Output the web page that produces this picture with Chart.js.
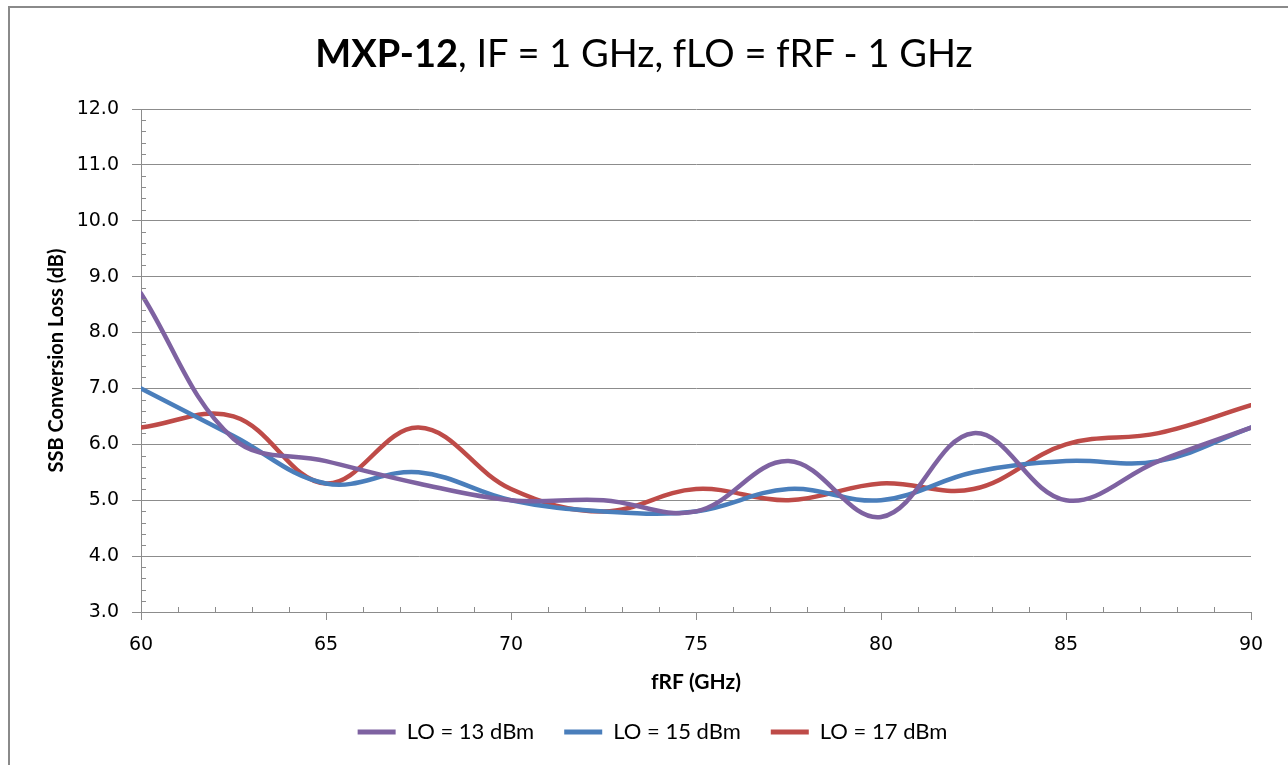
<!DOCTYPE html>
<html>
<head>
<meta charset="utf-8">
<script src="https://cdn.jsdelivr.net/npm/chart.js@4.4.1/dist/chart.umd.min.js"></script>
<style>
  html, body { margin: 0; padding: 0; background: #ffffff; }
  #wrap { position: relative; width: 1288px; height: 765px; overflow: hidden; background: #ffffff; }
  #frame { position: absolute; left: 8px; top: 6px; width: 1400px; height: 900px;
           border-left: 2px solid #8a8a8a; border-top: 2px solid #8a8a8a; }
  #c { position: absolute; left: 0; top: 0; }
  #title { position: absolute; left: 0; top: 32px; width: 1288px; text-align: center;
           font-family: Lato, "Open Sans", sans-serif; font-size: 38px; line-height: 40px; color: #000; }
  #title b { font-weight: 700; }
</style>
</head>
<body>
<div id="wrap">
  <div id="frame"></div>
  <canvas id="c" width="1288" height="765"></canvas>
  <div id="title"><b>MXP-12</b>, IF = 1 GHz, fLO = fRF - 1 GHz</div>
</div>
<script>
// ---- data ----
const frequencies = [60, 62.5, 65, 67.5, 70, 72.5, 75, 77.5, 80, 82.5, 85, 87.5, 90];
const lo13 = [8.7, 6.1, 5.7, 5.3, 5.0, 5.0, 4.8, 5.7, 4.7, 6.2, 5.0, 5.7, 6.3];
const lo15 = [7.0, 6.15, 5.3, 5.5, 5.0, 4.8, 4.8, 5.2, 5.0, 5.5, 5.7, 5.7, 6.3];
const lo17 = [6.3, 6.5, 5.3, 6.3, 5.2, 4.8, 5.2, 5.0, 5.3, 5.2, 6.0, 6.2, 6.7];
const seriesNames = ['LO = 13 dBm', 'LO = 15 dBm', 'LO = 17 dBm'];
const xTickValues = [60, 65, 70, 75, 80, 85, 90];
const yTickValues = [3, 4, 5, 6, 7, 8, 9, 10, 11, 12];
const xAxisTitle = 'fRF (GHz)';
const yAxisTitle = 'SSB Conversion Loss (dB)';

const seriesValues = [lo13, lo15, lo17];
const seriesColors = ['#7e62a1', '#4a7ebb', '#be4b48'];
const GRID = '#8c8c8c';

const toPoints = vals => frequencies.map((f, i) => ({ x: f, y: vals[i] }));

const minorTicks = {
  id: 'minorTicks',
  afterDraw(chart) {
    const ctx = chart.ctx;
    const xs = chart.scales.x, ys = chart.scales.y;
    const left = chart.chartArea.left, bottom = chart.chartArea.bottom;
    ctx.save();
    ctx.strokeStyle = GRID;
    ctx.lineWidth = 1;
    ctx.beginPath();
    for (let i = 1; i < Math.round((ys.max - ys.min) / 0.2); i++) {
      if (i % 5 === 0) continue;
      const py = Math.round(ys.getPixelForValue(ys.min + i * 0.2)) + 0.5;
      ctx.moveTo(left, py); ctx.lineTo(left + 5, py);
    }
    for (let v = xs.min + 1; v < xs.max; v += 1) {
      if ((v - xs.min) % 5 === 0) continue;
      const px = Math.round(xs.getPixelForValue(v)) + 0.5;
      ctx.moveTo(px, bottom); ctx.lineTo(px, bottom - 5);
    }
    ctx.stroke();
    ctx.restore();
  }
};

new Chart(document.getElementById('c'), {
  type: 'line',
  data: {
    datasets: seriesValues.map((vals, i) => ({
      label: seriesNames[i],
      data: toPoints(vals),
      borderColor: seriesColors[i],
      backgroundColor: seriesColors[i],
      borderWidth: 4.5,
      pointRadius: 0,
      pointHoverRadius: 0,
      tension: 0.38,
      fill: false,
      borderCapStyle: 'round'
    }))
  },
  options: {
    responsive: false,
    animation: false,
    devicePixelRatio: 1,
    layout: { padding: { top: 109, right: 37, left: 54, bottom: 12 } },
    plugins: {
      title: { display: false },
      tooltip: { enabled: false },
      legend: {
        position: 'bottom',
        labels: {
          font: { family: 'Lato', size: 22 },
          color: '#000',
          boxWidth: 38,
          boxHeight: 5,
          padding: 30,
          generateLabels(chart) {
            return Chart.defaults.plugins.legend.labels.generateLabels(chart).map(l => Object.assign(l, { lineWidth: 0 }));
          }
        }
      }
    },
    scales: {
      x: {
        type: 'linear',
        min: 60, max: 90,
        afterBuildTicks(s) { s.ticks = xTickValues.map(v => ({ value: v })); },
        afterFit(s) { s.height = 79; },
        grid: { drawOnChartArea: false, color: GRID, tickLength: 8, tickColor: GRID },
        border: { color: GRID, width: 1 },
        ticks: { font: { family: 'DejaVu Sans', size: 19 }, color: '#000', padding: 14, maxRotation: 0 },
        title: { display: true, text: xAxisTitle, font: { family: 'Lato', size: 21, weight: 'bold' }, color: '#000', padding: { top: 0, bottom: -4 } }
      },
      y: {
        min: 3, max: 12,
        afterBuildTicks(s) { s.ticks = yTickValues.map(v => ({ value: v })); },
        afterFit(s) { s.width = 87; },
        grid: { color: GRID, tickLength: 9, tickColor: GRID },
        border: { color: GRID, width: 1 },
        ticks: { font: { family: 'DejaVu Sans', size: 19 }, color: '#000', padding: 13, callback: v => Number(v).toFixed(1) },
        title: { display: true, text: yAxisTitle, font: { family: 'Lato', size: 20, weight: 'bold' }, color: '#000', padding: { top: -9, bottom: 0 } }
      }
    }
  },
  plugins: [minorTicks]
});
</script>
</body>
</html>
